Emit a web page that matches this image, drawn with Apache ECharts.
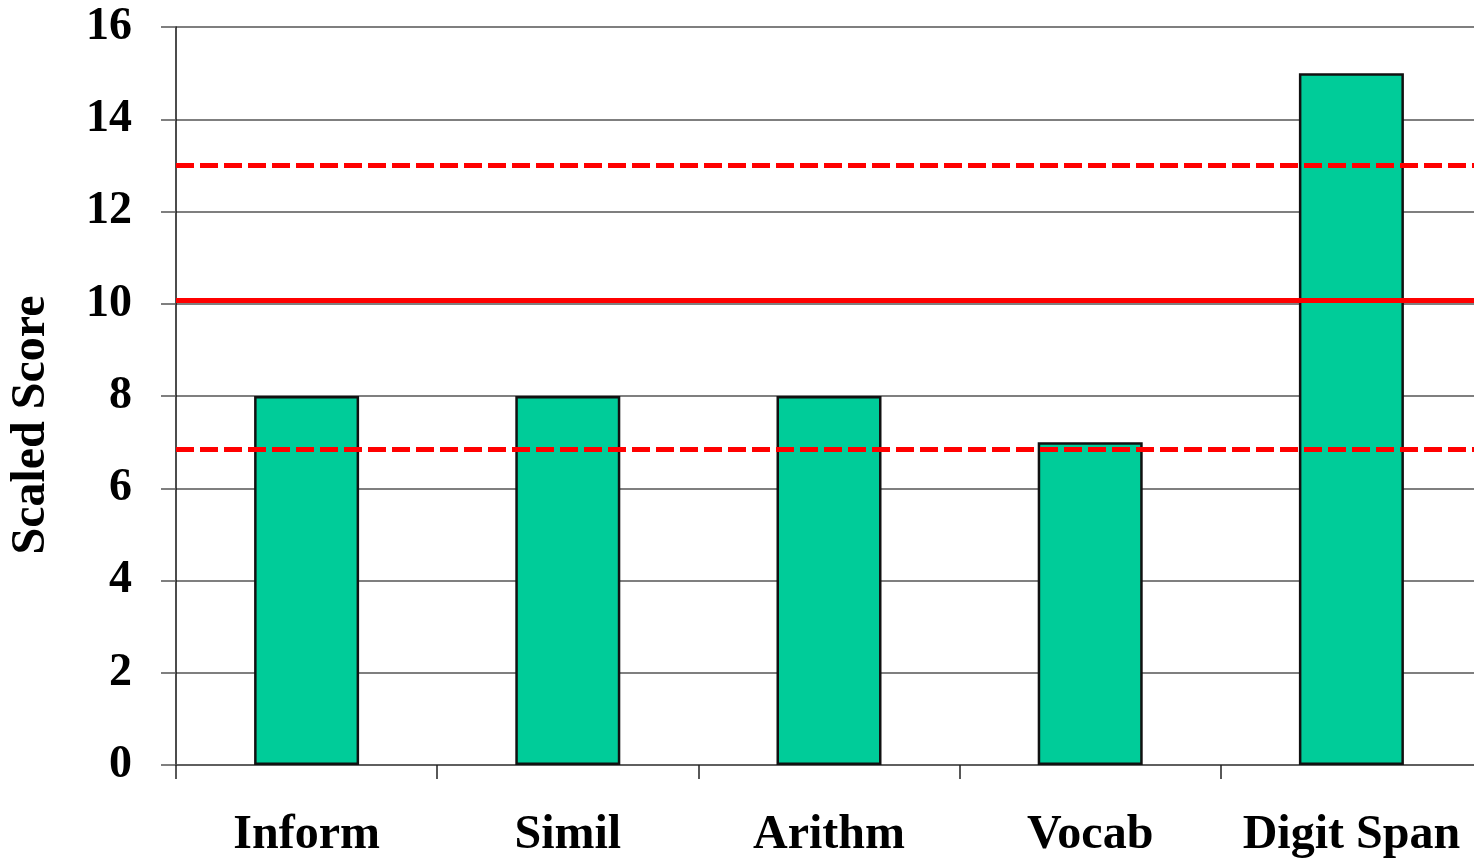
<!DOCTYPE html>
<html>
<head>
<meta charset="utf-8">
<script src="https://cdn.jsdelivr.net/npm/echarts@6/dist/echarts.min.js"></script>
<style>html,body{margin:0;padding:0;background:#fff}#c{width:1474px;height:860px}</style>
</head>
<body>
<div id="c"></div>
<script>
var categories = ['Inform', 'Simil', 'Arithm', 'Vocab', 'Digit Span'];
var scores = [8, 8, 8, 7, 15];
var yTicks = [0, 2, 4, 6, 8, 10, 12, 14, 16];
var meanLine = [10.08];
var bandLines = [13.0, 6.84];

var chart = echarts.init(document.getElementById('c'), null, {renderer: 'canvas'});
var font = '"Liberation Serif", "Times New Roman", serif';
var markData = [];
meanLine.forEach(function (v) {
  markData.push({yAxis: v, lineStyle: {type: 'solid', width: 5, color: '#ff0000'}});
});
bandLines.forEach(function (v) {
  markData.push({yAxis: v, lineStyle: {type: [18, 6], width: 5, color: '#ff0000'}});
});
chart.setOption({
  animation: false,
  backgroundColor: '#ffffff',
  grid: {left: 176, top: 27, bottom: 95, right: -8, containLabel: false, outerBoundsMode: 'none'},
  xAxis: {
    type: 'category',
    data: categories,
    axisLine: {show: true, lineStyle: {color: '#555555', width: 1.5}},
    axisTick: {show: true, length: 14, lineStyle: {color: '#222222', width: 1.5}},
    axisLabel: {interval: 0, color: '#000', fontFamily: font, fontWeight: 'bold', fontSize: 48, margin: 47, hideOverlap: false},
    splitLine: {show: false}
  },
  yAxis: {
    type: 'value',
    min: yTicks[0],
    max: yTicks[yTicks.length - 1],
    interval: 2,
    name: 'Scaled Score',
    nameLocation: 'middle',
    nameGap: 120,
    nameRotate: 90,
    nameTextStyle: {color: '#000', fontFamily: font, fontWeight: 'bold', fontSize: 48, padding: [0, 58, 0, 0]},
    axisLine: {show: true, lineStyle: {color: '#111111', width: 1.5}},
    axisTick: {show: true, inside: false, length: 15, lineStyle: {color: '#555555', width: 1.5}},
    axisLabel: {color: '#000', fontFamily: font, fontWeight: 'bold', fontSize: 46, margin: 44},
    splitLine: {show: true, lineStyle: {color: '#555555', width: 1.5}}
  },
  series: [{
    type: 'bar',
    data: scores,
    barWidth: 105,
    itemStyle: {color: '#00cc99', borderColor: '#111111', borderWidth: 2.5},
    markLine: {
      silent: true,
      symbol: ['none', 'none'],
      label: {show: false},
      data: markData
    }
  }]
});
</script>
</body>
</html>
